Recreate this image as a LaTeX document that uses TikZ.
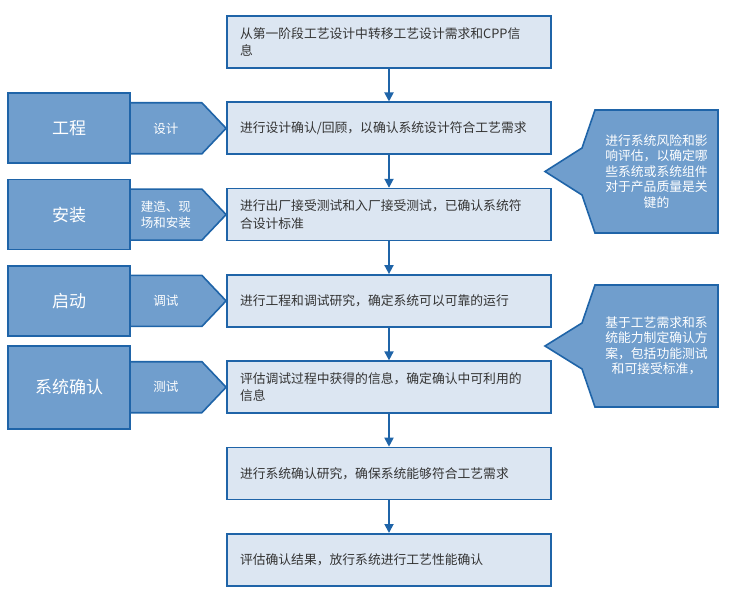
\documentclass[tikz,border=0pt]{standalone}
\usepackage{fontspec}
\newfontfamily\cjk{Noto Sans CJK SC}
\usetikzlibrary{positioning,shapes.symbols,arrows.meta,calc,backgrounds}

\definecolor{edgeblue}{HTML}{1F64A8}
\definecolor{boxfill}{HTML}{DCE6F2}
\definecolor{tabfill}{HTML}{709ECD}
\definecolor{txtgray}{HTML}{333333}

\begin{document}
\begin{tikzpicture}[x=1pt,y=-1pt,node distance=32.7pt,
  stepbox/.style={rectangle,draw=edgeblue,fill=boxfill,line width=1.6pt,
    text width=298pt,align=left,minimum height=52pt,inner xsep=13pt,
    text=txtgray,font=\cjk\fontsize{12.8}{17.5}\selectfont},
  phase/.style={rectangle,draw=edgeblue,fill=tabfill,line width=1.6pt,
    minimum width=122pt,minimum height=70pt,text=white,
    font=\cjk\fontsize{17}{20}\selectfont},
  task/.style={signal,signal to=east,signal pointer angle=93,draw=edgeblue,
    fill=tabfill,line width=1.6pt,minimum width=96pt,minimum height=51pt,
    inner sep=2pt,text=white,align=center,
    font=\cjk\fontsize{12.5}{16}\selectfont},
  note/.style={text=white,align=center,text width=110pt,minimum width=123pt,
    minimum height=123pt,outer sep=0pt,
    font=\cjk\fontsize{12.8}{15.5}\selectfont},
  notebox/.style={draw=edgeblue,fill=tabfill,line width=1.6pt},
  flow/.style={draw=edgeblue,line width=1.8pt,-{Triangle[width=9pt,length=9pt]}}]
  \useasboundingbox (0,0) rectangle (729,599);

  % main column
  \node[stepbox] (d1) at (389,42) {从第一阶段工艺设计中转移工艺设计需求和CPP信\\息};
  \node[stepbox,below=of d1] (d2) {进行设计确认/回顾，以确认系统设计符合工艺需求};
  \node[stepbox,below=of d2] (d3) {进行出厂接受测试和入厂接受测试，已确认系统符\\合设计标准};
  \node[stepbox,below=of d3] (d4) {进行工程和调试研究，确定系统可以可靠的运行};
  \node[stepbox,below=of d4] (d5) {评估调试过程中获得的信息，确定确认中可利用的\\信息};
  \node[stepbox,below=of d5] (d6) {进行系统确认研究，确保系统能够符合工艺需求};
  \node[stepbox,below=of d6] (d7) {评估确认结果，放行系统进行工艺性能确认};
  \foreach \a/\b in {d1/d2,d2/d3,d3/d4,d4/d5,d5/d6,d6/d7}
    \draw[flow] (\a) -- (\b);

  % phases on the left
  \node[task,left=-1pt of d2] (s1) {设计};
  \node[phase,left=-1.6pt of s1] (engineering) {工程};
  \node[task,left=-1pt of d3] (s2) {建造、现\\场和安装};
  \node[phase,left=-1.6pt of s2] (install) {安装};
  \node[task,left=-1pt of d4] (s3) {调试};
  \node[phase,left=-1.6pt of s3] (startup) {启动};
  \node[task,left=-1pt of d5] (s4) {测试};
  \node[phase,minimum height=83pt,left=-1.6pt of s4] (qualify) {系统确认};

  % notes on the right
  \node[note] (r1) at (656.5,171.5) {进行系统风险和影\\响评估，以确定哪\\些系统或系统组件\\对于产品质量是关\\键的};
  \node[note,minimum height=122pt] (r2) at (656.5,346) {基于工艺需求和系\\统能力制定确认方\\案，包括功能测试\\和可接受标准，};
  \begin{scope}[on background layer]
    \foreach \r in {r1,r2}
      \draw[notebox] (\r.north west) -- ++(-13,38) -- ($(\r.west)+(-50,0)$)
        -- ($(\r.south west)+(-13,-38)$) -- (\r.south west) -- (\r.south east)
        -- (\r.north east) -- cycle;
  \end{scope}
\end{tikzpicture}
\end{document}
